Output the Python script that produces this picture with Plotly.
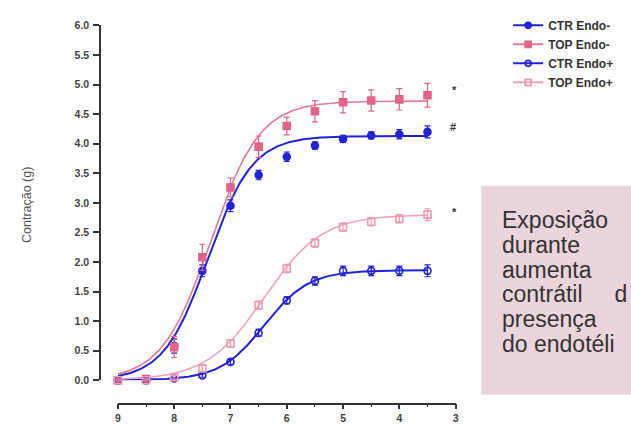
import numpy as np
import plotly.graph_objects as go

# ---------------- data ----------------
log_conc = [9, 8.5, 8, 7.5, 7, 6.5, 6, 5.5, 5, 4.5, 4, 3.5]   # -log[M]

ctr_minus = [0.0, 0.0, 0.58, 1.85, 2.95, 3.47, 3.78, 3.97, 4.08, 4.14, 4.16, 4.20]
ctr_minus_err = [0.02, 0.02, 0.12, 0.10, 0.10, 0.08, 0.08, 0.06, 0.06, 0.06, 0.08, 0.10]
top_minus = [0.0, 0.02, 0.56, 2.08, 3.26, 3.95, 4.30, 4.55, 4.70, 4.73, 4.75, 4.82]
top_minus_err = [0.02, 0.03, 0.18, 0.22, 0.16, 0.18, 0.15, 0.18, 0.18, 0.18, 0.18, 0.20]
ctr_plus = [0.0, 0.0, 0.03, 0.08, 0.31, 0.80, 1.35, 1.68, 1.85, 1.85, 1.85, 1.85]
ctr_plus_err = [0.02, 0.02, 0.02, 0.03, 0.04, 0.06, 0.06, 0.07, 0.08, 0.08, 0.08, 0.10]
top_plus = [0.0, 0.0, 0.05, 0.20, 0.62, 1.27, 1.89, 2.32, 2.59, 2.68, 2.73, 2.80]
top_plus_err = [0.02, 0.02, 0.03, 0.05, 0.06, 0.07, 0.07, 0.07, 0.07, 0.07, 0.07, 0.10]

series_names = ["CTR Endo-", "TOP Endo-", "CTR Endo+", "TOP Endo+"]

# fitted sigmoid parameters (bottom, top, pEC50, hill slope)
fit_bottom = [0.0, 0.0, 0.0, 0.0]
fit_top = [4.13, 4.72, 1.86, 2.80]
fit_p50 = [7.40, 7.35, 6.40, 6.40]
fit_hill = [1.10, 1.00, 1.10, 0.85]

x_tick_vals = [9, 8, 7, 6, 5, 4, 3]
y_title = "Contração (g)"
marks = ["*", "#", "*"]
marks_x = [3.02, 3.05, 3.02]
marks_y = [4.90, 4.28, 2.85]
box_lines = ["Exposição", "durante", "aumenta",
             "contrátil\u00a0\u00a0\u00a0\u00a0\u00a0d", "presença",
             "do endotéli"]

# ---------------- styling ----------------
BLUE = "#2222d8"
PINK = "#e3648a"
PINK_L = "#ef9ab0"
colors = [BLUE, PINK, BLUE, PINK_L]
line_colors = [BLUE, "#e57a98", BLUE, "#f0a6b8"]
line_widths = [2, 1.6, 2, 1.6]
symbols = ["circle", "square", "circle-open", "square-open"]
point_data = [(ctr_minus, ctr_minus_err), (top_minus, top_minus_err),
              (ctr_plus, ctr_plus_err), (top_plus, top_plus_err)]

W, H = 631, 429


def px(xp):
    return xp / W


def py(yp):
    return (H - yp) / H


fig = go.Figure()

xfit = np.linspace(max(log_conc), min(log_conc), 300)
for i in range(4):
    yfit = fit_bottom[i] + (fit_top[i] - fit_bottom[i]) / (1 + 10 ** ((xfit - fit_p50[i]) * fit_hill[i]))
    fig.add_trace(go.Scatter(x=xfit, y=yfit, mode="lines",
                             line=dict(color=line_colors[i], width=line_widths[i]),
                             showlegend=False, hoverinfo="skip"))

for i in range(4):
    vals, errs = point_data[i]
    fig.add_trace(go.Scatter(
        x=log_conc, y=vals, mode="markers", cliponaxis=False, showlegend=False,
        marker=dict(symbol=symbols[i], size=7, color=colors[i],
                    line=dict(color=colors[i], width=1.6)),
        error_y=dict(type="data", array=errs, color=colors[i], thickness=1.2, width=3)))

for i in range(4):
    fig.add_trace(go.Scatter(
        x=[None], y=[None], mode="lines+markers", name=series_names[i],
        line=dict(color=line_colors[i], width=2),
        marker=dict(symbol=symbols[i], size=6, color=colors[i],
                    line=dict(color=colors[i], width=1.6))))

for t, xv, yv in zip(marks, marks_x, marks_y):
    fig.add_annotation(x=xv, y=yv, text=t, showarrow=False, xanchor="center",
                       font=dict(family="Arial", size=11, color="#333", weight="bold"))

# text box
fig.add_shape(type="rect", xref="paper", yref="paper",
              x0=px(483), x1=px(700), y0=py(400), y1=py(185),
              fillcolor="#ebd5dc", line=dict(width=0), layer="below")
for k, ln in enumerate(box_lines):
    fig.add_annotation(xref="paper", yref="paper", x=px(502), y=py(220 + 25.6 * k),
                       text=ln, showarrow=False, xanchor="left", yanchor="middle",
                       font=dict(family="Arial", size=23, color="#333"))

fig.add_annotation(xref="paper", yref="paper", x=px(25), y=py(205), text=y_title,
                   showarrow=False, textangle=-90, xanchor="center", yanchor="middle",
                   font=dict(family="Arial", size=12.5, color="#555"))

axis_font = dict(family="Arial", size=10.5, color="#444", weight="bold")
fig.update_layout(
    width=W, height=H, margin=dict(l=0, r=0, t=0, b=0),
    paper_bgcolor="white", plot_bgcolor="white",
    xaxis=dict(range=[9, 3], domain=[px(116), px(457)], anchor="free", position=py(409),
               tickvals=x_tick_vals, ticks="outside", ticklen=5, tickwidth=1.5,
               showline=True, linecolor="#333", linewidth=1.5, tickcolor="#333",
               showgrid=False, zeroline=False, tickfont=axis_font,
               minor=dict(dtick=0.5, ticks="outside", ticklen=3, tickwidth=1.2,
                          tickcolor="#333", showgrid=False)),
    yaxis=dict(range=[0, 6], domain=[py(385), py(20)], anchor="free", position=px(98),
               dtick=0.5, tickformat=".1f", ticks="outside", ticklen=6, tickwidth=1.5,
               showline=True, linecolor="#333", linewidth=1.5, tickcolor="#333",
               showgrid=False, zeroline=False, tickfont=axis_font, ticklabelstandoff=2),
    legend=dict(x=px(510), y=py(5), xanchor="left", yanchor="top",
                bgcolor="rgba(0,0,0,0)", tracegroupgap=0, itemwidth=30,
                font=dict(family="Arial", size=12, color="#333", weight="bold")),
    font=dict(family="Arial"),
)

fig.write_html("out.html", config={"displayModeBar": False},
               post_script="document.body.style.margin='0';document.body.style.overflow='hidden';")
